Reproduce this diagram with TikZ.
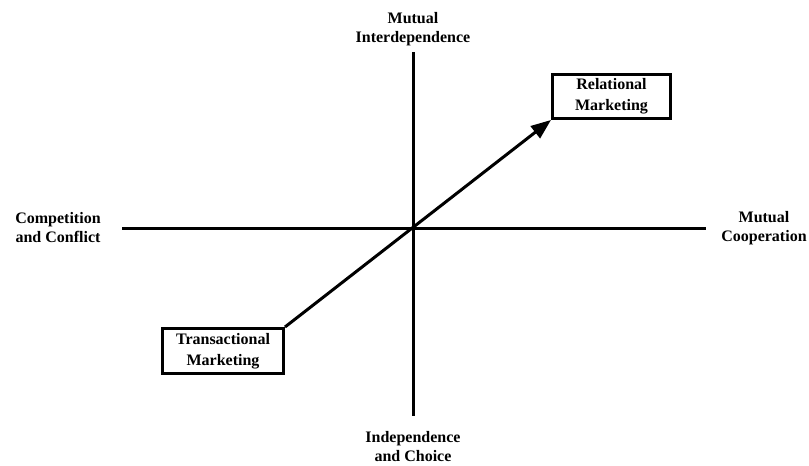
\documentclass[tikz,border=0pt]{standalone}
\usepackage{fontspec}
\setmainfont{Liberation Serif}
\usetikzlibrary{arrows.meta}
\begin{document}
\begin{tikzpicture}[x=1pt,y=-1pt,
  axis/.style={line width=3pt},
  lbl/.style={font=\bfseries\fontsize{16}{19}\selectfont, align=center, inner sep=0pt},
  mbox/.style={draw, line width=3pt, font=\bfseries\fontsize{16}{21}\selectfont, align=center, inner sep=0pt},
  flow/.style={line width=3pt, -{Triangle[length=20pt,width=15pt]}}]
  \useasboundingbox (0,0) rectangle (809,466);
  % axes
  \coordinate (west) at (122,228.5);
  \coordinate (east) at (706,228.5);
  \coordinate (north) at (413,52);
  \coordinate (south) at (413,416);
  \draw[axis] (west) -- (east);
  \draw[axis] (north) -- (south);
  % axis labels
  \node[lbl] (top) at (413,29) {Mutual\\Interdependence};
  \node[lbl] (bot) at (413,447) {Independence\\and Choice};
  \node[lbl] (lft) at (58,228) {Competition\\and Conflict};
  \node[lbl] (rgt) at (764,228) {Mutual\\Cooperation};
  % marketing boxes
  \node[mbox, minimum width=118pt, minimum height=44pt] (rel) at (611.5,96.5) {Relational\\Marketing};
  \node[mbox, minimum width=121pt, minimum height=45pt] (tra) at (223,351) {Transactional\\Marketing};
  % shift from transactional to relational
  \draw[flow] (tra.north east) -- (rel.south west);
\end{tikzpicture}
\end{document}
